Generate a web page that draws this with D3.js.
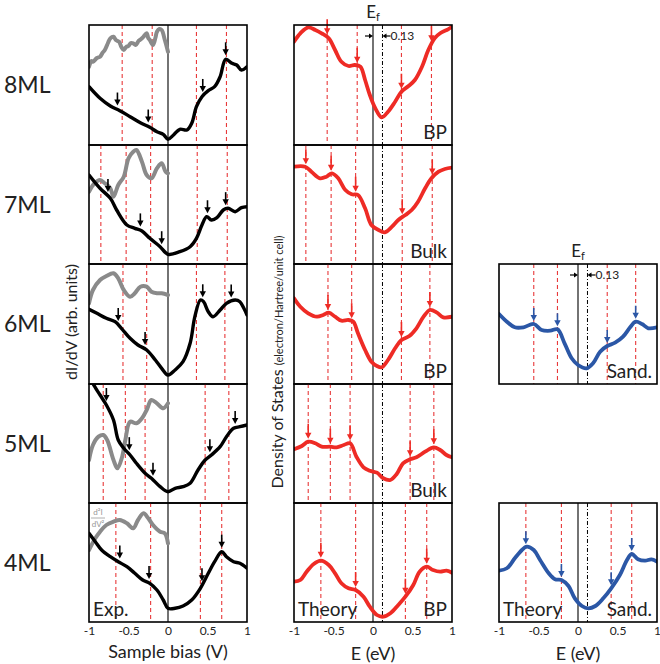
<!DOCTYPE html>
<html><head><meta charset="utf-8">
<script src="https://cdn.jsdelivr.net/npm/d3@7/dist/d3.min.js"></script>
<style>body{margin:0;background:#fff}svg{display:block}text{font-family:Lato,"Open Sans",sans-serif}</style>
</head><body><svg id="c" width="660" height="664"></svg>
<script>
// ---------- DATA ----------
const rowLabels = ["8ML","7ML","6ML","5ML","4ML"];
const xTicks = [-1,-0.5,0,0.5,1];
const xTickLabels = ["-1","-0.5","0","0.5","1"];
const efShift = 0.12; // drawn position of the shifted Fermi level (label "0.13")
const efLabel = "0.13";

// dashed feature lines per row
const lines8 = [-0.58,-0.20,0.36,0.74];
const lines7 = [-0.85,-0.53,-0.22,0.37,0.75];
const lines6 = [-0.57,-0.27,0.36,0.72];
const lines5 = [-0.82,-0.54,-0.29,0.47,0.77];
const lines4 = [-0.66,-0.22,0.41,0.68];
const linesSand6 = [-0.56,-0.26,0.37,0.73];
const linesSand4 = [-0.66,-0.21,0.42,0.68];

// experimental arrows (x positions)
const expArrows8 = [-0.64,-0.25,0.44,0.73];
const expArrows7 = [-0.76,-0.35,-0.08,0.50,0.73];
const expArrows6 = [-0.63,-0.29,0.44,0.80];
const expArrows5 = [-0.78,-0.49,-0.19,0.53,0.85];
const expArrows4 = [-0.61,-0.24,0.43,0.68];

// experimental dI/dV (black), [bias, signal]
const exp8 = [[-1,58.3],[-0.86,46.7],[-0.73,39],[-0.61,34.3],[-0.48,28.3],[-0.35,22.3],[-0.23,17.7],[-0.14,13.3],[-0.06,10.7],[0,5.7],[0.07,10],[0.15,15.7],[0.24,15],[0.30,21.7],[0.36,38.3],[0.43,48.3],[0.51,54.3],[0.59,58.3],[0.66,68.3],[0.73,85.7],[0.81,81.7],[0.87,80],[0.93,75],[1,78.3]];
const exp7 = [[-1,89],[-0.86,75.7],[-0.73,65.7],[-0.65,54],[-0.52,39],[-0.42,35.7],[-0.33,33],[-0.23,25.7],[-0.10,17.3],[0,9.7],[0.15,12.3],[0.28,17.3],[0.36,25.7],[0.43,39],[0.49,47.3],[0.55,44],[0.62,46.3],[0.70,54],[0.76,55.7],[0.85,52.3],[0.93,56.3],[1,57.3]];
const exp6 = [[-1,74.7],[-0.90,70.7],[-0.78,65.7],[-0.67,62.3],[-0.59,55.7],[-0.48,45.7],[-0.38,39],[-0.27,34],[-0.16,24],[-0.08,15.7],[0,9],[0.09,14],[0.19,22.3],[0.28,40.7],[0.34,67.3],[0.41,84],[0.45,82.3],[0.51,72.3],[0.57,67.3],[0.66,74],[0.74,80.7],[0.85,84],[0.91,82.3],[0.96,75.7],[1,69]];
const exp5 = [[-1,132],[-0.95,119.7],[-0.86,108],[-0.78,98],[-0.69,83],[-0.63,63],[-0.56,54.7],[-0.48,48],[-0.40,39.7],[-0.29,29.7],[-0.21,24.7],[-0.10,16.3],[0,11.3],[0.09,14.7],[0.19,16.3],[0.28,19.7],[0.38,33],[0.47,43],[0.55,48],[0.66,56.3],[0.74,66.3],[0.83,74.7],[0.91,76.3],[1,78]];
const exp4 = [[-1,88.7],[-0.92,80.3],[-0.84,72],[-0.73,65.3],[-0.63,60.3],[-0.52,55.3],[-0.42,48.7],[-0.32,42],[-0.23,38.7],[-0.14,32],[-0.06,22],[0,13.7],[0.09,13.7],[0.19,16],[0.30,22],[0.41,33.7],[0.51,48.7],[0.59,60.3],[0.68,70.3],[0.74,65.3],[0.83,60.3],[0.91,58.7],[1,53.7]];

// experimental d2I/dV2 (grey), negative bias only
const d2_8 = [[-1,78.3],[-0.97,84],[-0.95,83.3],[-0.9,87],[-0.86,88.3],[-0.83,92],[-0.80,95],[-0.76,102],[-0.73,106.7],[-0.69,108.3],[-0.66,105],[-0.62,103.3],[-0.59,98],[-0.56,95],[-0.53,98],[-0.50,99],[-0.47,102],[-0.44,101.7],[-0.41,100],[-0.37,104.3],[-0.34,106],[-0.31,108.3],[-0.27,111.7],[-0.25,107],[-0.23,105],[-0.19,100],[-0.16,107],[-0.14,113.3],[-0.11,116],[-0.08,115],[-0.04,105],[0,93.3]];
const d2_7 = [[-1,72.3],[-0.93,80.7],[-0.86,84],[-0.80,80.7],[-0.73,75.7],[-0.69,67.3],[-0.63,79],[-0.56,87.3],[-0.50,105.7],[-0.44,112.3],[-0.40,114],[-0.33,102.3],[-0.27,89],[-0.21,85.7],[-0.14,95.7],[-0.08,100.7],[-0.03,92.3],[0,90.7]];
const d2_6 = [[-1,80.7],[-0.95,94],[-0.86,104],[-0.78,108],[-0.69,110.7],[-0.63,105.7],[-0.56,94],[-0.48,87.3],[-0.42,90.7],[-0.35,97.3],[-0.27,97.3],[-0.21,92.3],[-0.14,90.7],[-0.08,90.7],[0,89]];
const d2_5 = [[-1,43],[-0.95,58],[-0.88,66.3],[-0.82,68],[-0.77,63],[-0.69,43],[-0.64,34.7],[-0.58,46.3],[-0.54,63],[-0.48,81.3],[-0.40,79.7],[-0.33,84.7],[-0.27,93],[-0.21,103],[-0.14,99.7],[-0.06,94.7],[0,99.7]];
const d2_4 = [[-1,72],[-0.92,83.7],[-0.86,90.3],[-0.78,97],[-0.69,100.3],[-0.61,102],[-0.52,98.7],[-0.44,93.7],[-0.38,102],[-0.31,108.7],[-0.25,103.7],[-0.19,97],[-0.10,90.3],[-0.04,88.7],[0,78.7]];

// theory DOS (red), [E, DOS]
const dosBP8 = [[-1,103.3],[-0.92,111.7],[-0.82,117.7],[-0.73,115],[-0.65,111.7],[-0.56,106.7],[-0.48,95],[-0.40,83.3],[-0.31,79],[-0.23,80],[-0.16,78.3],[-0.10,65],[-0.04,50],[0.03,36.7],[0.11,27.7],[0.19,33.3],[0.28,43.3],[0.36,53.3],[0.45,59],[0.53,65],[0.62,78.3],[0.70,95],[0.78,106.7],[0.85,111.7],[0.95,115.7],[1,118.3]];
const dosBulk7 = [[-1,97.3],[-0.86,97.3],[-0.78,92.3],[-0.67,85.7],[-0.59,87.3],[-0.52,90.7],[-0.44,85.7],[-0.35,74],[-0.27,69.7],[-0.19,69],[-0.10,55.7],[-0.02,39],[0.07,34],[0.15,31.7],[0.24,37.3],[0.32,44],[0.41,49],[0.49,54],[0.57,62.3],[0.66,75.7],[0.74,85.7],[0.83,92.3],[0.91,95],[1,96.3]];
const dosBP6 = [[-1,85.7],[-0.92,77.3],[-0.82,70.7],[-0.71,67.3],[-0.63,69],[-0.56,71.3],[-0.48,67.3],[-0.40,63.3],[-0.31,64],[-0.25,62.3],[-0.19,50.7],[-0.10,34],[-0.02,22.3],[0.05,18],[0.11,16.7],[0.19,24],[0.28,35.7],[0.36,44],[0.46,48],[0.55,55.7],[0.64,67.3],[0.72,74],[0.81,71.3],[0.89,66.7],[1,67.3]];
const dosBulk5 = [[-1,53.7],[-0.90,57],[-0.82,61.3],[-0.73,59.7],[-0.65,56.3],[-0.54,56.3],[-0.46,55.7],[-0.37,58],[-0.29,59.7],[-0.21,46.3],[-0.12,35.7],[-0.04,32.3],[0.05,30.3],[0.13,24.7],[0.22,23],[0.30,29],[0.38,39.7],[0.47,43.7],[0.55,45.7],[0.66,51.3],[0.77,55.7],[0.85,53],[0.93,48],[1,45.7]];
const dosBP4 = [[-1,40.3],[-0.92,42],[-0.84,50.3],[-0.75,58],[-0.66,61.3],[-0.56,57],[-0.48,48.7],[-0.40,38.7],[-0.31,33.7],[-0.22,32],[-0.12,25.3],[-0.04,15.3],[0.05,7],[0.13,5.3],[0.22,8.7],[0.32,17],[0.41,25.3],[0.51,37],[0.59,50.3],[0.68,55.3],[0.76,52],[0.85,50.3],[0.93,51.3],[1,49.3]];
// theory DOS sandwich (blue)
const dosSand6 = [[-1,70],[-0.90,62.3],[-0.80,56.7],[-0.69,56.7],[-0.56,60],[-0.46,54],[-0.35,53.3],[-0.26,54.7],[-0.17,40.7],[-0.08,25.7],[0,19],[0.11,15.7],[0.19,20.7],[0.28,32.3],[0.37,38],[0.47,41.3],[0.57,47.3],[0.66,56.7],[0.73,62.3],[0.81,60],[0.89,55.7],[1,56.7]];
const dosSand4 = [[-1,51.3],[-0.90,53.7],[-0.80,63.7],[-0.71,72],[-0.65,75.3],[-0.56,72],[-0.48,62],[-0.37,48.7],[-0.29,42.7],[-0.21,42],[-0.12,36],[-0.04,23.7],[0.05,16],[0.13,13.7],[0.22,16],[0.32,23.7],[0.42,33.7],[0.53,47],[0.62,62],[0.68,68],[0.76,62.7],[0.85,61.3],[0.93,62.7],[1,60.3]];

// ---------- LAYOUT ----------
const svg = d3.select("#c");
const rowEdges = [25,145,264,384,503,622];
const colX = {exp:[89,247], bp:[294,452], sand:[499,657]};
const RED = "#ee2b25", BLUE = "#2b57a6", GREY = "#8a8a8a", DASH = "#e8393a";

svg.append("defs").selectAll("clipPath").data(d3.range(15)).join("clipPath")
  .attr("id", d => "cp" + d).append("rect");

function interp(data, x) {
  for (let i = 0; i < data.length - 1; i++) {
    if (x >= data[i][0] && x <= data[i+1][0]) {
      const t = (x - data[i][0]) / (data[i+1][0] - data[i][0]);
      return data[i][1] + t * (data[i+1][1] - data[i][1]);
    }
  }
  return data[data.length-1][1];
}

let clipId = 0;
function panel(opts) {
  const [x0, x1] = colX[opts.col];
  const top = rowEdges[opts.row], bottom = rowEdges[opts.row+1];
  const x = d3.scaleLinear().domain([-1,1]).range([x0,x1]);
  const y = d3.scaleLinear().domain([0, bottom-top]).range([bottom, top]);
  const id = clipId++;
  d3.select("#cp"+id+" rect").attr("x", x0).attr("y", top).attr("width", x1-x0).attr("height", bottom-top);
  const g = svg.append("g");
  g.selectAll("line.d").data(opts.lines).join("line")
    .attr("x1", d => x(d)).attr("x2", d => x(d)).attr("y1", top).attr("y2", bottom)
    .attr("stroke", DASH).attr("stroke-width", 1.1).attr("stroke-dasharray", "4,3");
  g.append("line").attr("x1", x(0)).attr("x2", x(0)).attr("y1", top).attr("y2", bottom)
    .attr("stroke", "#000").attr("stroke-width", 1.1);
  if (opts.ef) {
    g.append("line").attr("x1", x(efShift)).attr("x2", x(efShift)).attr("y1", top).attr("y2", bottom)
      .attr("stroke", "#000").attr("stroke-width", 1).attr("stroke-dasharray", "4,2,1,2");
  }
  const line = d3.line().x(d => x(d[0])).y(d => y(d[1])).curve(d3.curveCatmullRom.alpha(0.5));
  const cg = g.append("g").attr("clip-path", `url(#cp${id})`);
  (opts.curves || []).forEach(c => {
    cg.append("path").attr("d", line(c.data)).attr("fill", "none")
      .attr("stroke", c.color).attr("stroke-width", c.w).attr("stroke-linejoin", "round").attr("stroke-linecap", "round");
  });
  const ac = opts.arrowColor, len = opts.arrowLen;
  opts.arrows.forEach(ax => {
    const tip = y(interp(opts.main, ax)) - opts.gap;
    const px = x(ax);
    g.append("line").attr("x1", px).attr("x2", px).attr("y1", tip - len).attr("y2", tip - 5)
      .attr("stroke", ac).attr("stroke-width", 1.6);
    g.append("path").attr("d", `M${px-3.2},${tip-6}L${px+3.2},${tip-6}L${px},${tip}Z`).attr("fill", ac);
  });
  g.append("rect").attr("x", x0).attr("y", top).attr("width", x1-x0).attr("height", bottom-top)
    .attr("fill", "none").attr("stroke", "#000").attr("stroke-width", 1.6);
  if (opts.label) {
    g.append("text").attr("x", x1 - 5).attr("y", bottom - 6).attr("text-anchor", "end")
      .attr("font-size", 19).attr("fill", "#222").text(opts.label);
  }
  if (opts.leftLabel) {
    g.append("text").attr("x", x0 + 4).attr("y", bottom - 6)
      .attr("font-size", 19).attr("fill", "#222").text(opts.leftLabel);
  }
  if (opts.axis) {
    const ax = g.append("g").attr("transform", `translate(0,${bottom})`)
      .call(d3.axisBottom(x).tickValues(xTicks).tickSize(0).tickPadding(4).tickFormat((d,i) => xTickLabels[i]));
    ax.select(".domain").remove();
    ax.selectAll("text").attr("font-size", 12).attr("fill", "#222").style("font-family", "Lato, sans-serif");
  }
  return {x, y, top, bottom};
}

const expData = [exp8, exp7, exp6, exp5, exp4];
const d2Data = [d2_8, d2_7, d2_6, d2_5, d2_4];
const rowLines = [lines8, lines7, lines6, lines5, lines4];
const expArrows = [expArrows8, expArrows7, expArrows6, expArrows5, expArrows4];
const dosData = [dosBP8, dosBulk7, dosBP6, dosBulk5, dosBP4];
const dosLabels = ["BP","Bulk","BP","Bulk","BP"];

let topMid, sandTop;
for (let r = 0; r < 5; r++) {
  panel({col:"exp", row:r, lines:rowLines[r], main:expData[r], arrows:expArrows[r],
    arrowColor:"#000", arrowLen:13, gap:4,
    curves:[{data:d2Data[r], color:GREY, w:4},{data:expData[r], color:"#000", w:3.4}],
    axis: r === 4, leftLabel: r === 4 ? "Exp." : null});
  const p = panel({col:"bp", row:r, lines:rowLines[r], main:dosData[r], arrows:rowLines[r],
    arrowColor:RED, arrowLen:15, gap:3, ef:true,
    curves:[{data:dosData[r], color:RED, w:3.8}],
    axis: r === 4, label: dosLabels[r], leftLabel: r === 4 ? "Theory" : null});
  if (r === 0) topMid = p;
  svg.append("text").attr("x", 4).attr("y", (rowEdges[r]+rowEdges[r+1])/2 + 8)
    .attr("font-size", 23).attr("fill", "#222").text(rowLabels[r]);
}
sandTop = panel({col:"sand", row:2, lines:linesSand6, main:dosSand6, arrows:linesSand6,
  arrowColor:BLUE, arrowLen:13, gap:3, ef:true,
  curves:[{data:dosSand6, color:BLUE, w:3.8}], label:"Sand."});
panel({col:"sand", row:4, lines:linesSand4, main:dosSand4, arrows:linesSand4,
  arrowColor:BLUE, arrowLen:13, gap:3, ef:true,
  curves:[{data:dosSand4, color:BLUE, w:3.8}], label:"Sand.", leftLabel:"Theory", axis:true});

function efAnnot(p) {
  const x0 = p.x(0), xe = p.x(efShift);
  const t = svg.append("text").attr("x", x0).attr("y", p.top - 7).attr("text-anchor", "middle")
    .attr("font-size", 17).attr("fill", "#222");
  t.append("tspan").text("E");
  t.append("tspan").attr("font-size", 11).attr("dy", 3).text("f");
  const ya = p.top + 11;
  svg.append("line").attr("x1", x0 - 8).attr("x2", x0 - 3).attr("y1", ya).attr("y2", ya).attr("stroke", "#000").attr("stroke-width", 1.2);
  svg.append("path").attr("d", `M${x0-4},${ya-2.5}L${x0},${ya}L${x0-4},${ya+2.5}Z`).attr("fill", "#000");
  svg.append("line").attr("x1", xe + 3).attr("x2", xe + 8).attr("y1", ya).attr("y2", ya).attr("stroke", "#000").attr("stroke-width", 1.2);
  svg.append("path").attr("d", `M${xe+4},${ya-2.5}L${xe},${ya}L${xe+4},${ya+2.5}Z`).attr("fill", "#000");
  svg.append("text").attr("x", xe + 8).attr("y", ya + 4).attr("font-size", 12).attr("fill", "#222").text(efLabel);
}
efAnnot(topMid);
efAnnot(sandTop);

const dl = svg.append("g").attr("fill", "#999").attr("font-size", 8).attr("text-anchor", "middle");
dl.append("text").attr("x", 98).attr("y", 515).text("d²I");
dl.append("line").attr("x1", 91).attr("x2", 105).attr("y1", 518).attr("y2", 518).attr("stroke", "#999").attr("stroke-width", 0.8);
dl.append("text").attr("x", 98).attr("y", 527).text("dV²");

svg.append("text").attr("transform", "translate(77,322) rotate(-90)").attr("text-anchor", "middle")
  .attr("font-size", 16).attr("fill", "#222").text("dI/dV (arb. units)");
const dt = svg.append("text").attr("transform", "translate(283,362) rotate(-90)").attr("text-anchor", "middle").attr("fill", "#222");
dt.append("tspan").attr("font-size", 16).text("Density of States ");
dt.append("tspan").attr("font-size", 11).text("(electron/Hartree/unit cell)");
svg.append("text").attr("x", 168).attr("y", 658).attr("text-anchor", "middle").attr("font-size", 18).attr("fill", "#222").text("Sample bias (V)");
svg.append("text").attr("x", 373).attr("y", 660).attr("text-anchor", "middle").attr("font-size", 18).attr("fill", "#222").text("E (eV)");
svg.append("text").attr("x", 578).attr("y", 660).attr("text-anchor", "middle").attr("font-size", 18).attr("fill", "#222").text("E (eV)");
</script></body></html>
